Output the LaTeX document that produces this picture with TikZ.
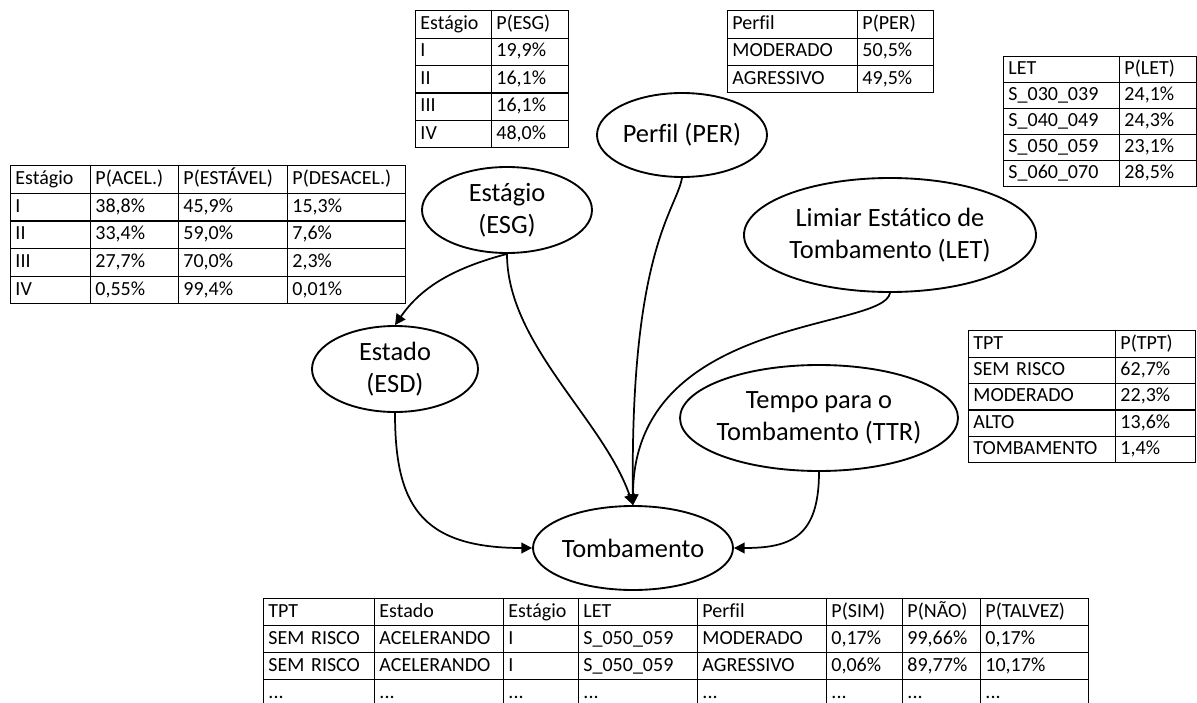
\documentclass[tikz,border=0pt]{standalone}
\usepackage{fontspec}
\setmainfont{Carlito}[Ligatures={NoCommon,NoRare}]
\usetikzlibrary{matrix}
\usetikzlibrary{shapes.geometric}
\usetikzlibrary{arrows.meta}

\newcommand{\tabfont}{\fontsize{15pt}{18pt}\selectfont}
\newcommand{\varfont}{\fontsize{19.8pt}{24pt}\selectfont}

\tikzset{
  rv/.style={ellipse, draw, line width=1.4pt, inner xsep=-6pt, inner ysep=0pt, align=center, font=\varfont},
  cpt/.style={matrix of nodes, anchor=north west, inner sep=0pt,
    row sep=-0.8pt, column sep=-0.8pt,
    nodes={draw, line width=0.8pt, anchor=center, align=left, inner xsep=3.5pt, inner ysep=0pt,
      font=\tabfont, text height=11pt, text depth=3.5pt, minimum height=#1}},
  arc/.style={line width=1.3pt, -{Triangle[length=8pt,width=8pt]}},
}

\begin{document}
\begin{tikzpicture}[x=0.75pt, y=-0.75pt]
\useasboundingbox (0,0) rectangle (1197,703);

% variables
\node[rv, minimum width=127.5pt, minimum height=63pt] (per) at (682,135) {Perfil (PER)};
\node[rv, minimum width=127.5pt, minimum height=64.5pt] (esg) at (507,210) {Estágio\\(ESG)};
\node[rv, minimum width=219pt, minimum height=85.5pt] (let) at (890,235) {Limiar Estático de\\Tombamento (LET)};
\node[rv, minimum width=124.5pt, minimum height=64.5pt] (esd) at (395,369) {Estado\\(ESD)};
\node[rv, minimum width=208.5pt, minimum height=79.5pt] (ttr) at (819,418) {Tempo para o\\Tombamento (TTR)};
\node[rv, minimum width=150pt, minimum height=63pt] (tomb) at (633,548) {Tombamento};

% arcs
\draw[arc] (esg.south) .. controls +(-57,15) and +(25,-36) .. (esd.north);
\draw[arc] (esg.south) .. controls +(0,90) and +(-30,-86) .. (tomb.north);
\draw[arc] (per.south) .. controls +(-6,33) and +(-3,-255) .. (tomb.north);
\draw[arc] (let.south) .. controls +(-6,38) and +(0,-190) .. (tomb.north);
\draw[arc] (esd.south) .. controls +(0,90) and +(-113,0) .. (tomb.west);
\draw[arc] (ttr.south) .. controls +(0,65) and +(57,0) .. (tomb.east);

% tables
\matrix (tabesg) [cpt=20.55pt, column 1/.style={nodes={text width=50pt}},
  column 2/.style={nodes={text width=50.75pt}}] at (415,10) {
  Estágio & P(ESG) \\
  I & 19,9\% \\
  II & 16,1\% \\
  III & 16,1\% \\
  IV & 48,0\% \\
};
\matrix (tabper) [cpt=20.5pt, column 1/.style={nodes={text width=90.5pt}},
  column 2/.style={nodes={text width=50pt}}] at (727,10) {
  Perfil & P(PER) \\
  MODERADO & 50,5\% \\
  AGRESSIVO & 49,5\% \\
};
\matrix (tablet) [cpt=19.5pt, column 1/.style={nodes={text width=80pt}},
  column 2/.style={nodes={text width=50.75pt}}] at (1003,56) {
  LET & P(LET) \\
  S\_030\_039 & 24,1\% \\
  S\_040\_049 & 24,3\% \\
  S\_050\_059 & 23,1\% \\
  S\_060\_070 & 28,5\% \\
};
\matrix (tabesd) [cpt=20.7pt, column 1/.style={nodes={text width=53pt}},
  column 2/.style={nodes={text width=59pt}},
  column 3/.style={nodes={text width=74.75pt}},
  column 4/.style={nodes={text width=81.5pt}}] at (10,165) {
  Estágio & P(ACEL.) & P(ESTÁVEL) & P(DESACEL.) \\
  I & 38,8\% & 45,9\% & 15,3\% \\
  II & 33,4\% & 59,0\% & 7,6\% \\
  III & 27,7\% & 70,0\% & 2,3\% \\
  IV & 0,55\% & 99,4\% & 0,01\% \\
};
\matrix (tabttr) [cpt=19.8pt, column 1/.style={nodes={text width=103.25pt}},
  column 2/.style={nodes={text width=53pt}}] at (968,330) {
  TPT & P(TPT) \\
  SEM RISCO & 62,7\% \\
  MODERADO & 22,3\% \\
  ALTO & 13,6\% \\
  TOMBAMENTO & 1,4\% \\
};
\matrix (tabtomb) [cpt=20.25pt, column 1/.style={nodes={text width=76.25pt}},
  column 2/.style={nodes={text width=89.75pt}},
  column 3/.style={nodes={text width=49.25pt}},
  column 4/.style={nodes={text width=82.25pt}},
  column 5/.style={nodes={text width=89.75pt}},
  column 6/.style={nodes={text width=50pt}},
  column 7/.style={nodes={text width=51.5pt}},
  column 8/.style={nodes={text width=74pt}}] at (263,598) {
  TPT & Estado & Estágio & LET & Perfil & P(SIM) & P(NÃO) & P(TALVEZ) \\
  SEM RISCO & ACELERANDO & I & S\_050\_059 & MODERADO & 0,17\% & 99,66\% & 0,17\% \\
  SEM RISCO & ACELERANDO & I & S\_050\_059 & AGRESSIVO & 0,06\% & 89,77\% & 10,17\% \\
  ... & ... & ... & ... & ... & ... & ... & ... \\
};
\end{tikzpicture}
\end{document}
